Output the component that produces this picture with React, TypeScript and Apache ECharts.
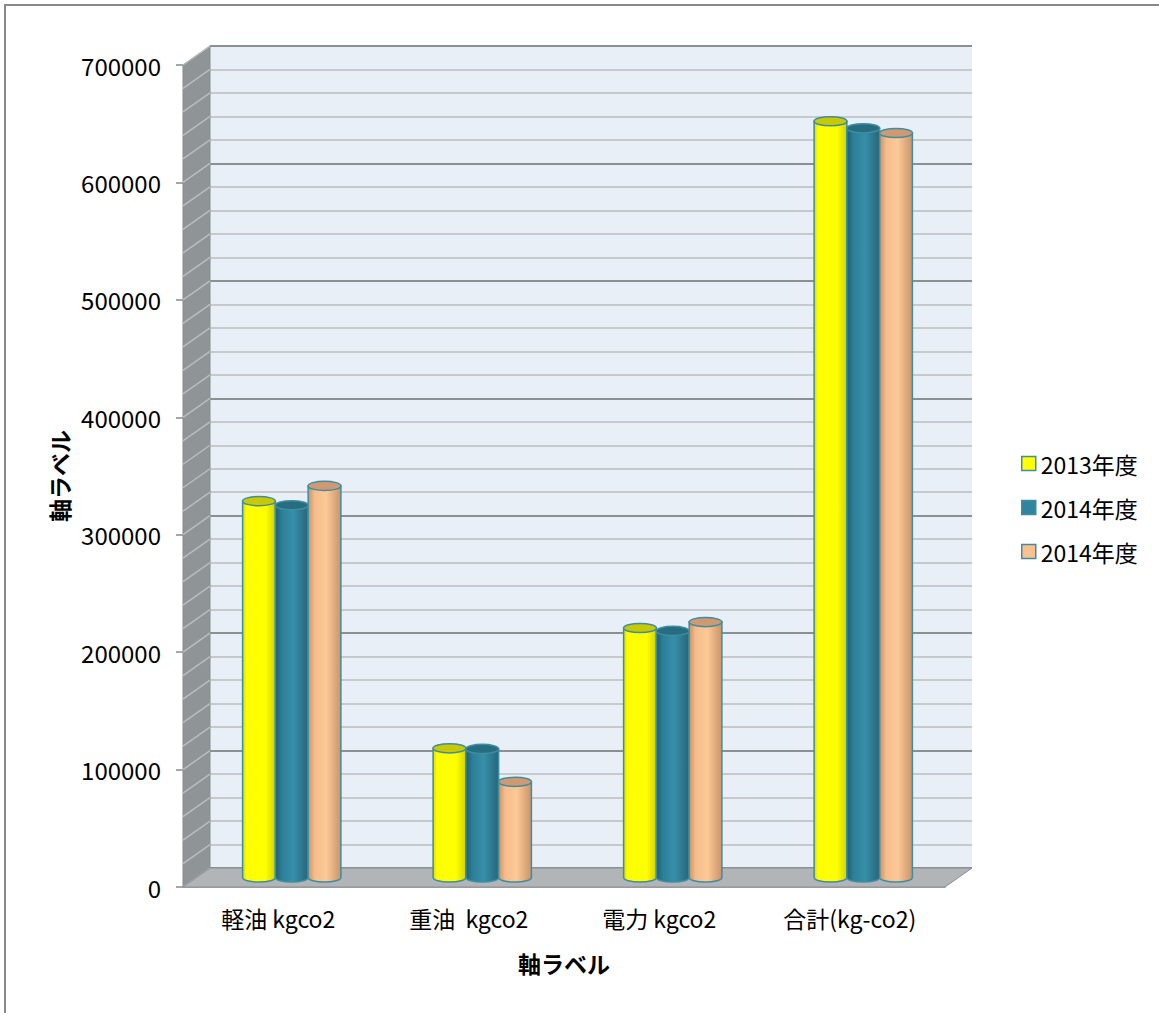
import React, { useEffect, useRef } from 'react';
import * as echarts from 'echarts';

// ---- data ----
const categories = ['軽油 kgco2', '重油  kgco2', '電力 kgco2', '合計(kg-co2)'];
const seriesLabels = ['2013年度', '2014年度', '2014年度'];
const values2013 = [320500, 110000, 212500, 644000];
const values2014 = [317000, 109500, 210000, 638000];
const values2014b = [333500, 81500, 217500, 634000];
const yMin = 0;
const yMax = 700000;
const yStep = 100000;
const yMinorSplit = 5;
const axisTitleX = '軸ラベル';
const axisTitleY = '軸ラベル';

// ---- layout / style ----
const W = 1159;
const H = 1013;
const FONT = "'Noto Sans CJK JP', 'Noto Sans', sans-serif";
const FRONT = { left: 183, top: 65, width: 762, height: 822 };
const DX = 27;
const DY = -19;
const OUTLINE = '#3e8da3';

const palettes = [
  {
    legend: '#ffff00',
    top: '#c9c900',
    stops: [
      [0, '#d9d900'],
      [0.12, '#ffff00'],
      [0.7, '#ffff00'],
      [1, '#d2d200'],
    ],
  },
  {
    legend: '#31849b',
    top: '#276d80',
    stops: [
      [0, '#1e5f70'],
      [0.2, '#2d7f97'],
      [0.55, '#368fa9'],
      [1, '#25667a'],
    ],
  },
  {
    legend: '#fac090',
    top: '#cf9a72',
    stops: [
      [0, '#c89266'],
      [0.2, '#f5bd8c'],
      [0.55, '#fdc996'],
      [1, '#c8946a'],
    ],
  },
];

const seriesValues = [values2013, values2014, values2014b];
const seriesNames = seriesLabels.map((l, i) => `${l}#${i}`);

function gridOf(dx: number, dy: number) {
  return {
    left: FRONT.left + dx,
    top: FRONT.top + dy,
    width: FRONT.width,
    height: FRONT.height,
  };
}

function makeBarSeries(idx: number) {
  const pal = palettes[idx];
  return {
    type: 'custom',
    name: seriesNames[idx],
    xAxisIndex: 2,
    yAxisIndex: 2,
    z: 5,
    itemStyle: { color: pal.legend },
    data: seriesValues[idx].map((v, c) => [c, v]),
    renderItem: (params: any, api: any) => {
      const c = api.value(0);
      const v = api.value(1);
      const base = api.coord([c, 0]);
      const top = api.coord([c, v]);
      const band = api.size([1, 0])[0];
      const w = band * 0.172;
      const cx = base[0] + (idx - 1) * w;
      const rx = w / 2;
      const ry = w * 0.14;
      const x0 = cx - rx;
      const x1 = cx + rx;
      const yT = top[1];
      const yB = base[1];
      const body = `M${x0} ${yT}L${x0} ${yB}A${rx} ${ry} 0 0 0 ${x1} ${yB}L${x1} ${yT}Z`;
      const cap = `M${x0} ${yT}A${rx} ${ry} 0 1 0 ${x1} ${yT}A${rx} ${ry} 0 1 0 ${x0} ${yT}Z`;
      return {
        type: 'group',
        children: [
          {
            type: 'path',
            shape: { pathData: body },
            style: {
              fill: new echarts.graphic.LinearGradient(
                0, 0, 1, 0,
                pal.stops.map((s) => ({ offset: s[0] as number, color: s[1] as string }))
              ),
              stroke: OUTLINE,
              lineWidth: 1.5,
            },
          },
          {
            type: 'path',
            shape: { pathData: cap },
            style: { fill: pal.top, stroke: OUTLINE, lineWidth: 1.5 },
          },
        ],
      };
    },
  };
}

const frameSeries = {
  type: 'custom',
  xAxisIndex: 1,
  yAxisIndex: 1,
  z: 1,
  silent: true,
  data: [[0, 0]],
  renderItem: (params: any, api: any) => {
    const cs = params.coordSys;
    const x = cs.x;
    const y = cs.y;
    const w = cs.width;
    const h = cs.height;
    const children: any[] = [];
    children.push({
      type: 'polygon',
      shape: { points: [[x, y], [x + DX, y + DY], [x + DX, y + h + DY], [x, y + h]] },
      style: { fill: '#8f9497', stroke: '#878c8f', lineWidth: 1 },
    });
    const minorStep = yStep / yMinorSplit;
    for (let v = yMin; v <= yMax; v += minorStep) {
      const yy = api.coord([0, v])[1];
      children.push({
        type: 'line',
        shape: { x1: x, y1: yy, x2: x + DX, y2: yy + DY },
        style: { stroke: '#b9bdc0', lineWidth: 1.5 },
      });
    }
    children.push({
      type: 'polygon',
      shape: {
        points: [[x, y + h], [x + DX, y + h + DY], [x + w + DX, y + h + DY], [x + w, y + h]],
      },
      style: { fill: '#b1b5b8', stroke: '#8c9093', lineWidth: 1 },
    });
    return { type: 'group', children };
  },
};

function App() {
  const ref = useRef<HTMLDivElement>(null);
  useEffect(() => {
    if (!ref.current) return;
    const chart = echarts.init(ref.current, null, { renderer: 'svg', width: W, height: H });
    const hiddenAxis = { show: false };
    chart.setOption({
      animation: false,
      backgroundColor: '#ffffff',
      textStyle: { fontFamily: FONT },
      grid: [
        { ...gridOf(DX, DY), show: true, backgroundColor: '#e9eff6', borderWidth: 0 },
        { ...gridOf(0, 0) },
        { ...gridOf(DX / 2, DY / 2) },
      ],
      xAxis: [
        { type: 'category', gridIndex: 0, data: categories, ...hiddenAxis },
        {
          type: 'category',
          gridIndex: 1,
          data: categories,
          axisLine: { show: true, lineStyle: { color: '#868a8d', width: 1.5 } },
          axisTick: { show: false },
          axisLabel: { fontSize: 23, color: '#000', margin: 19, fontFamily: FONT },
          name: axisTitleX,
          nameLocation: 'middle',
          nameGap: 64,
          nameTextStyle: { fontSize: 23, fontWeight: 'bold', color: '#000', fontFamily: FONT },
        },
        { type: 'category', gridIndex: 2, data: categories, ...hiddenAxis },
      ],
      yAxis: [
        {
          type: 'value',
          gridIndex: 0,
          min: yMin,
          max: yMax,
          interval: yStep,
          axisLine: { show: false },
          axisTick: { show: false },
          axisLabel: { show: false },
          minorTick: { show: false, splitNumber: yMinorSplit },
          splitLine: { show: true, lineStyle: { color: '#8b9093', width: 2 } },
          minorSplitLine: { show: true, lineStyle: { color: '#c6cacd', width: 2 } },
        },
        {
          type: 'value',
          gridIndex: 1,
          min: yMin,
          max: yMax,
          interval: yStep,
          axisLine: { show: true, lineStyle: { color: '#868a8d', width: 1 } },
          axisTick: { show: true, length: 7, lineStyle: { color: '#868a8d', width: 1.5 } },
          axisLabel: {
            fontSize: 24,
            color: '#000',
            margin: 22,
            fontFamily: FONT,
            formatter: (v: number) => String(v),
          },
          splitLine: { show: false },
          name: axisTitleY,
          nameLocation: 'middle',
          nameGap: 112,
          nameRotate: 90,
          nameTextStyle: { fontSize: 23, fontWeight: 'bold', color: '#000', fontFamily: FONT },
        },
        {
          type: 'value',
          gridIndex: 2,
          min: yMin,
          max: yMax,
          interval: yStep,
          show: false,
          splitLine: { show: false },
        },
      ],
      legend: {
        orient: 'vertical',
        left: 1016,
        top: 447,
        itemWidth: 14,
        itemHeight: 14,
        itemGap: 21,
        icon: 'rect',
        selectedMode: false,
        textStyle: { fontSize: 23, color: '#000', fontFamily: FONT },
        formatter: (n: string) => n.split('#')[0],
        data: seriesNames.map((n, i) => ({
          name: n,
          icon: 'rect',
          itemStyle: { color: palettes[i].legend, borderColor: OUTLINE, borderWidth: 1.5 },
        })),
      },
      graphic: [
        {
          type: 'polyline',
          silent: true,
          shape: { points: [[5, H], [5, 5], [W, 5]] },
          style: { stroke: '#898989', lineWidth: 2, fill: 'none' },
        },
      ],
      series: [frameSeries, makeBarSeries(0), makeBarSeries(1), makeBarSeries(2)],
    });
    return () => chart.dispose();
  }, []);
  return (
    <div
      ref={ref}
      style={{ position: 'absolute', left: 0, top: 0, width: W, height: H }}
    />
  );
}

export default App;
